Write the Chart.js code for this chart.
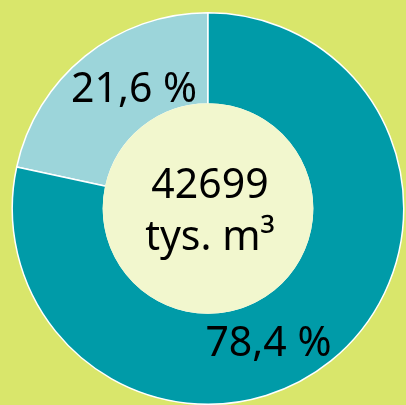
<!DOCTYPE html>
<html>
<head>
<meta charset="utf-8">
<script src="https://cdn.jsdelivr.net/npm/chart.js@4/dist/chart.umd.min.js"></script>
<style>
  html, body { margin: 0; padding: 0; background: #d9e66b; overflow: hidden; }
  #wrap { width: 406px; height: 405px; position: relative; }
</style>
</head>
<body>
<div id="wrap"><canvas id="c"></canvas></div>
<script>
const categories = ["Część 1", "Część 2"];
const values = [21.6, 78.4];
const totalLabel = ["42699", "tys. m³"];
const sliceColors = ["#9cd5da", "#009ba8"];

function fmt(v) { return v.toFixed(1).replace('.', ',') + ' %'; }

const total = values.reduce((a, b) => a + b, 0);

const labelPlugin = {
  id: 'labels',
  afterDatasetsDraw(chart) {
    const ctx = chart.ctx;
    const arc = chart.getDatasetMeta(0).data[0];
    const cx = arc.x, cy = arc.y, r = arc.outerRadius, ir = arc.innerRadius;
    ctx.save();
    ctx.beginPath();
    ctx.arc(cx, cy, ir + 0.8, 0, Math.PI * 2);
    ctx.fillStyle = '#f2f7ce';
    ctx.fill();
    ctx.fillStyle = '#000';
    ctx.textAlign = 'center';
    ctx.textBaseline = 'alphabetic';
    ctx.font = '41px "Noto Sans"';
    ctx.fillText(totalLabel[0], cx + 2, cy - 11);
    ctx.fillText(totalLabel[1], cx + 2, cy + 41.5);
    // slice labels, positioned relative to chart centre
    const offs = [[-74 / 196, -107 / 196], [60.5 / 196, 148 / 196]];
    values.forEach((v, i) => {
      ctx.fillText(fmt(v), cx + offs[i][0] * r, cy + offs[i][1] * r);
    });
    ctx.restore();
  }
};

new Chart(document.getElementById('c'), {
  type: 'doughnut',
  data: {
    labels: categories,
    datasets: [{
      data: values,
      backgroundColor: sliceColors,
      borderColor: '#ffffff',
      borderWidth: 1.5,
      borderAlign: 'center'
    }]
  },
  options: {
    responsive: true,
    maintainAspectRatio: false,
    animation: false,
    cutout: '53.4%',
    rotation: -(values[0] / total) * 360,
    layout: { padding: { left: 11, right: 1, top: 12, bottom: 0 } },
    plugins: { legend: { display: false }, tooltip: { enabled: false } }
  },
  plugins: [labelPlugin]
});
</script>
</body>
</html>
